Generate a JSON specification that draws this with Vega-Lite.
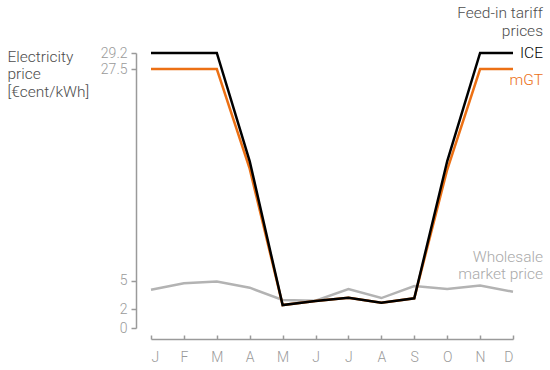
{
  "$schema": "https://vega.github.io/schema/vega-lite/v6.json",
  "autosize": "none",
  "padding": {"left": 151, "top": 53, "right": 37, "bottom": 42},
  "width": 362,
  "height": 275,
  "background": "white",
  "config": {
    "view": {"stroke": null},
    "font": "Roboto",
    "text": {"font": "Roboto", "fontWeight": 300}
  },
  "data": {
    "values": [
      {"m": 1, "ice": 29.2, "mgt": 27.5, "whole": 4.07},
      {"m": 2, "ice": 29.2, "mgt": 27.5, "whole": 4.75},
      {"m": 3, "ice": 29.2, "mgt": 27.5, "whole": 4.93},
      {"m": 4, "ice": 17.7, "mgt": 16.9, "whole": 4.28},
      {"m": 5, "ice": 2.43, "mgt": 2.43, "whole": 2.97},
      {"m": 6, "ice": 2.86, "mgt": 2.86, "whole": 2.9},
      {"m": 7, "ice": 3.2, "mgt": 3.2, "whole": 4.14},
      {"m": 8, "ice": 2.68, "mgt": 2.68, "whole": 3.18},
      {"m": 9, "ice": 3.15, "mgt": 3.15, "whole": 4.46},
      {"m": 10, "ice": 17.7, "mgt": 16.8, "whole": 4.14},
      {"m": 11, "ice": 29.2, "mgt": 27.5, "whole": 4.5},
      {"m": 12, "ice": 29.2, "mgt": 27.5, "whole": 3.85}
    ]
  },
  "encoding": {
    "x": {
      "field": "m",
      "type": "quantitative",
      "scale": {"domain": [1, 12], "nice": false, "zero": false},
      "axis": {
        "title": null,
        "values": [1, 2, 3, 4, 5, 6, 7, 8, 9, 10, 11, 12],
        "labelExpr": "['J','F','M','A','M','J','J','A','S','O','N','D'][datum.value - 1]",
        "offset": 11,
        "grid": false,
        "domainColor": "#9a9a9a",
        "domainWidth": 1.5,
        "tickColor": "#9a9a9a",
        "tickWidth": 1.5,
        "tickSize": -4,
        "labelPadding": 15,
        "labelColor": "#9a9a9a",
        "labelFont": "Roboto",
        "labelFontWeight": 300,
        "labelFontSize": 14
      }
    }
  },
  "layer": [
    {
      "mark": {"type": "line", "color": "#b3b3b3", "strokeWidth": 2.5},
      "encoding": {
        "y": {
          "field": "whole",
          "type": "quantitative",
          "scale": {"domain": [0, 29.2], "nice": false},
          "axis": {
            "values": [0, 2, 5, 27.5, 29.2],
            "format": ".1~f",
            "offset": 15,
            "grid": false,
            "domainColor": "#9a9a9a",
            "domainWidth": 1.5,
            "tickColor": "#9a9a9a",
            "tickWidth": 1.5,
            "tickSize": 5,
            "labelPadding": 4,
            "labelColor": "#9a9a9a",
            "labelFont": "Roboto",
            "labelFontWeight": 300,
            "labelFontSize": 14,
            "labelOverlap": false,
            "title": ["Electricity", "price", "[€cent/kWh]"],
            "titleAngle": 0,
            "titleAlign": "left",
            "titleBaseline": "alphabetic",
            "titleX": -129,
            "titleY": 8,
            "titleFont": "Roboto",
            "titleFontWeight": 300,
            "titleFontSize": 15.5,
            "titleLineHeight": 17.5,
            "titleColor": "#4d4d4d"
          }
        }
      }
    },
    {
      "mark": {"type": "line", "color": "#ec7014", "strokeWidth": 2.5},
      "encoding": {"y": {"field": "mgt", "type": "quantitative"}}
    },
    {
      "mark": {"type": "line", "color": "#000000", "strokeWidth": 2.5},
      "encoding": {"y": {"field": "ice", "type": "quantitative"}}
    },
    {
      "transform": [{"filter": "datum.m == 12"}],
      "mark": {"type": "text", "align": "right", "baseline": "middle", "dx": 30, "fontSize": 15.5, "color": "#000000"},
      "encoding": {"y": {"field": "ice", "type": "quantitative"}, "text": {"value": "ICE"}}
    },
    {
      "transform": [{"filter": "datum.m == 12"}],
      "mark": {"type": "text", "align": "right", "baseline": "middle", "dx": 30, "dy": 11, "fontSize": 15.5, "color": "#ec7014"},
      "encoding": {"y": {"field": "mgt", "type": "quantitative"}, "text": {"value": "mGT"}}
    },
    {
      "transform": [{"filter": "datum.m == 12"}],
      "mark": {"type": "text", "align": "right", "baseline": "alphabetic", "dx": 30, "dy": -35, "fontSize": 15.5, "lineHeight": 18, "color": "#4d4d4d"},
      "encoding": {"y": {"field": "ice", "type": "quantitative"}, "text": {"value": ["Feed-in tariff", "prices"]}}
    },
    {
      "transform": [{"filter": "datum.m == 12"}],
      "mark": {"type": "text", "align": "right", "baseline": "alphabetic", "dx": 30, "dy": -30, "fontSize": 15.5, "lineHeight": 17, "color": "#aaaaaa"},
      "encoding": {"y": {"field": "whole", "type": "quantitative"}, "text": {"value": ["Wholesale", "market price"]}}
    }
  ]
}
